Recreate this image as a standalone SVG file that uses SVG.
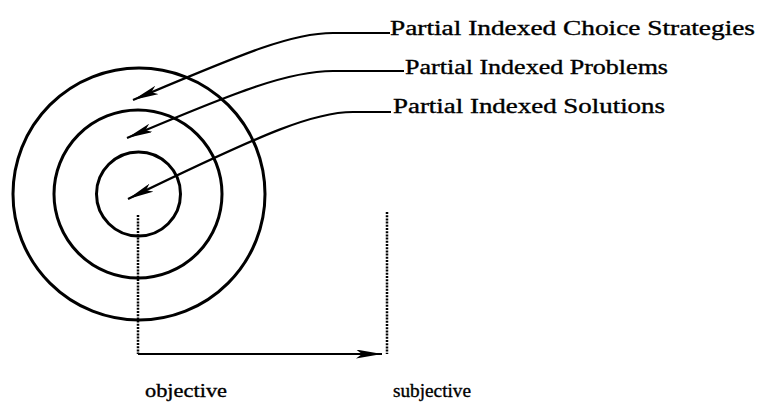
<svg xmlns="http://www.w3.org/2000/svg" width="765" height="403" viewBox="0 0 765 403">
<style>
.ring{fill:none;stroke:#000;stroke-width:3}
.lead{fill:none;stroke:#000;stroke-width:2.2}
.dot{fill:none;stroke:#000;stroke-width:2.5;stroke-dasharray:2 1.2}
.lbl{font-family:"Liberation Serif","Times New Roman",serif;font-size:20px;fill:#000;stroke:#000;stroke-width:0.35}
.ax{font-family:"Liberation Serif","Times New Roman",serif;font-size:19px;fill:#000;stroke:#000;stroke-width:0.35}
</style>
<defs>
<marker id="ah" viewBox="0 0 26 9" refX="26" refY="4.5" markerWidth="26" markerHeight="9" markerUnits="userSpaceOnUse" orient="auto">
<path d="M0,0 L26,4.5 L0,9 L6,4.5 Z" fill="#000"/>
</marker>
</defs>
<rect width="765" height="403" fill="#fff"/>
<g id="rings">
<circle id="outer" class="ring" cx="139" cy="194" r="126"/>
<circle id="middle" class="ring" cx="138" cy="194" r="84"/>
<circle id="inner" class="ring" cx="138.5" cy="194" r="42"/>
</g>
<g id="connectors">
<path class="lead" d="M390,33 L333,33 C290,33 240,55 133,100" marker-end="url(#ah)"/>
<path class="lead" d="M404,71 L333,71 C290,71 240,90 127,138" marker-end="url(#ah)"/>
<path class="lead" d="M391,112 L353,112 C315,112 270,130 128,199" marker-end="url(#ah)"/>
<path class="dot" d="M138,215 L138,354"/>
<path class="lead" d="M138,354 L382,354" marker-end="url(#ah)"/>
<path class="dot" d="M387,212 L387,354"/>
</g>
<g id="label-strategies"><text class="lbl" x="390" y="35" textLength="365" lengthAdjust="spacingAndGlyphs">Partial Indexed  Choice Strategies</text></g>
<g id="label-problems"><text class="lbl" x="405" y="74" textLength="263" lengthAdjust="spacingAndGlyphs">Partial Indexed Problems</text></g>
<g id="label-solutions"><text class="lbl" x="393" y="113" textLength="272" lengthAdjust="spacingAndGlyphs">Partial Indexed Solutions</text></g>
<g id="label-objective"><text class="ax" x="145" y="397" textLength="82" lengthAdjust="spacingAndGlyphs">objective</text></g>
<g id="label-subjective"><text class="ax" x="393" y="397" textLength="78" lengthAdjust="spacingAndGlyphs">subjective</text></g>
</svg>
